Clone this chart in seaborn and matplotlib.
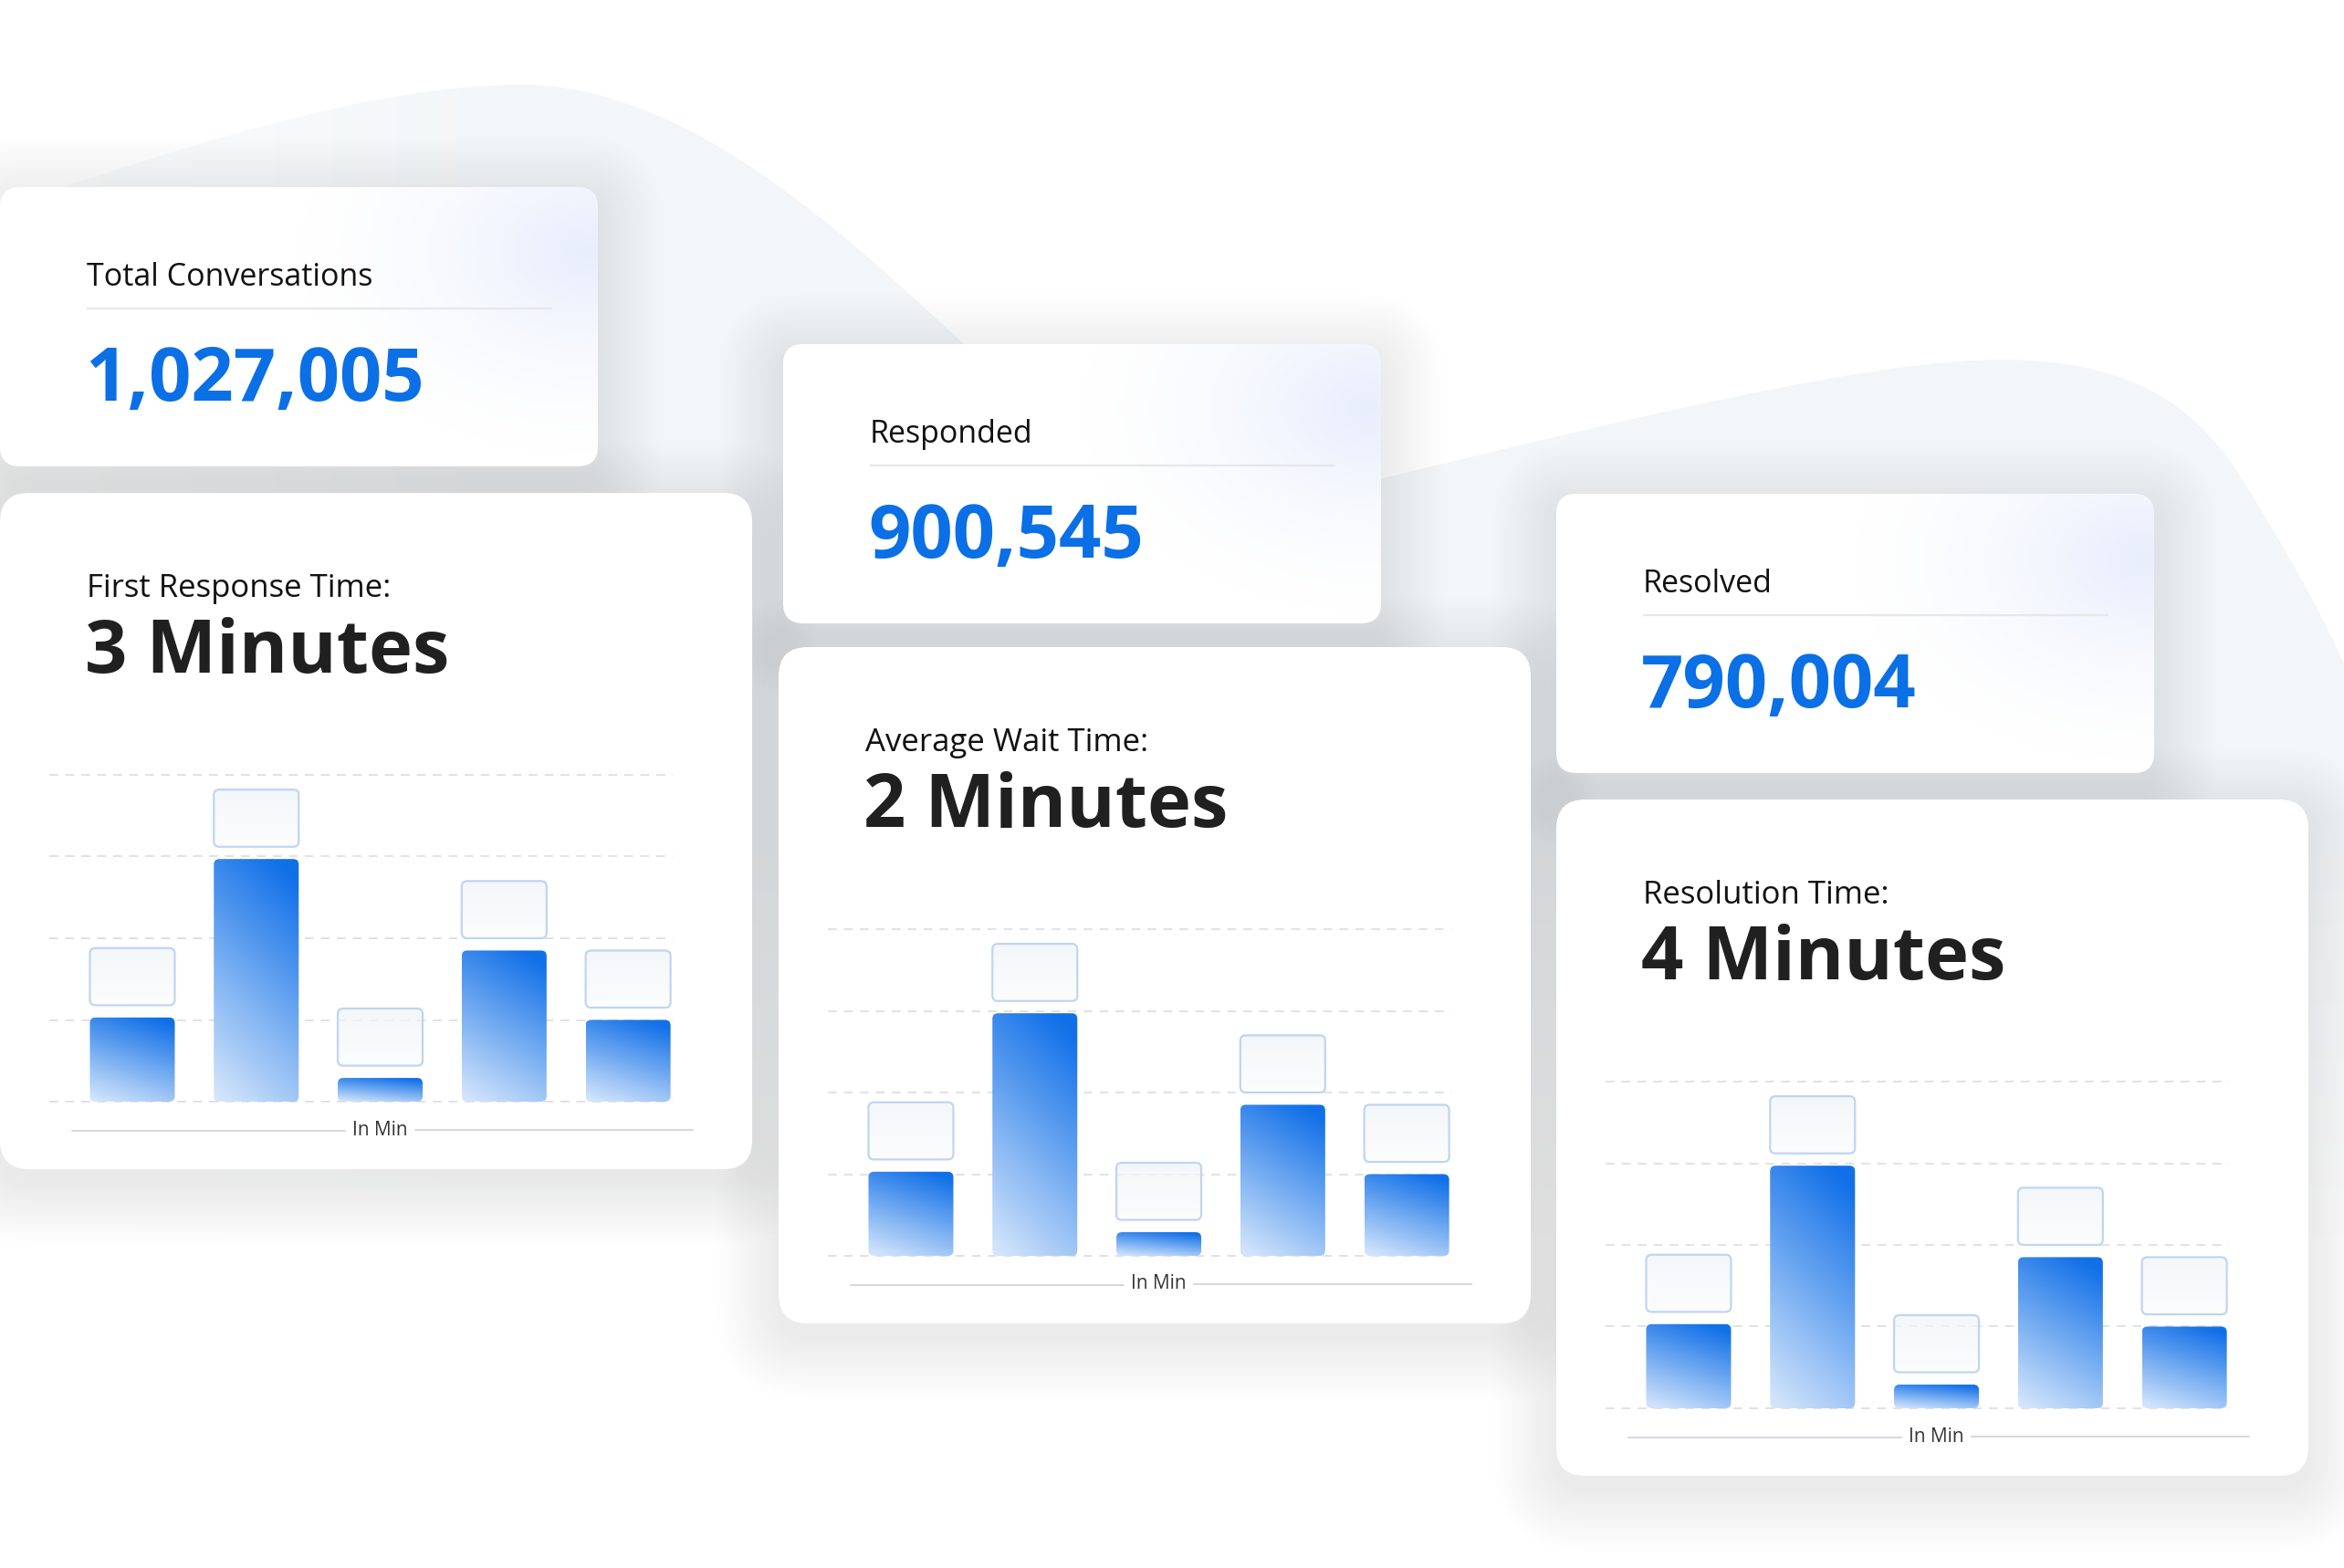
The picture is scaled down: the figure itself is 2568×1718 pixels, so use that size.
import numpy as np
import pandas as pd
import matplotlib
matplotlib.use("Agg")
import matplotlib.pyplot as plt
from matplotlib.patches import FancyBboxPatch, PathPatch
from matplotlib.path import Path
import seaborn as sns

sns.set_theme(style="white")
plt.rcParams["font.family"] = ["Open Sans", "DejaVu Sans"]

W, H = 2568, 1718

# ---- data -------------------------------------------------------------
kpi_labels = ["Total Conversations", "Responded", "Resolved"]
kpi_values = [1027005, 900545, 790004]

time_titles = ["First Response Time:", "Average Wait Time:", "Resolution Time:"]
time_minutes = [3, 2, 4]

bar_keys = ["1", "2", "3", "4", "5"]
first_response = [1.03, 2.97, 0.29, 1.85, 1.00]
average_wait = [1.03, 2.97, 0.29, 1.85, 1.00]
resolution = [1.03, 2.97, 0.29, 1.85, 1.00]
bar_series = [first_response, average_wait, resolution]
axis_caption = "In Min"

# ---- layout / style ----------------------------------------------------
small_left = [0, 858, 1705]
small_top = [205, 377, 541]
small_w, small_h = 655, 306
chart_left = [0, 853, 1705]
chart_top = [540, 709, 876]
chart_w, chart_h = 824, 741

BLUE_TXT = "#0b6fe6"
DARK = np.array([0.07, 0.44, 0.91])
LIGHT = np.array([0.83, 0.90, 0.985])
GRID = "#dfe2e6"

fig = plt.figure(figsize=(W / 100, H / 100), dpi=100)
fig.patch.set_facecolor("white")
bg = fig.add_axes([0, 0, 1, 1])
bg.set_xlim(0, W)
bg.set_ylim(H, 0)
bg.set_axis_off()


def rbox(ax, x, y, w, h, r, aspect=1.0, **kw):
    p = FancyBboxPatch((x, y), w, h, boxstyle=f"round,pad=0,rounding_size={r}",
                       mutation_aspect=aspect, **kw)
    ax.add_patch(p)
    return p


# background blob
verts = [(-10, 230), (180, 170), (400, 90), (580, 93),
         (760, 98), (930, 260), (1070, 390),
         (1300, 560), (1515, 524),
         (1800, 455), (2060, 392), (2200, 394),
         (2330, 396), (2400, 440), (2450, 515),
         (2510, 610), (2560, 700), (2590, 780),
         (2590, 1730), (-10, 1730), (-10, 230)]
codes = [Path.MOVETO] + [Path.CURVE4] * 6 + [Path.LINETO] * 2 + \
        [Path.CURVE4] * 9 + [Path.LINETO] * 2 + [Path.CLOSEPOLY]
blob = PathPatch(Path(verts, codes), facecolor="none", edgecolor="none")
bg.add_patch(blob)
by, bx_ = np.mgrid[0:H:8, 0:W:8]
alpha = np.clip((1350 - by) / 450, 0, 1) * np.clip(0.3 + bx_ / 800, 0, 1)
blob_img = np.zeros(by.shape + (4,))
blob_img[..., 0], blob_img[..., 1], blob_img[..., 2] = 0.955, 0.968, 0.973
blob_img[..., 3] = alpha
im = bg.imshow(blob_img, extent=(0, W, H, 0), origin="upper", aspect="auto",
               interpolation="bilinear", zorder=0)
im.set_clip_path(blob)


def shadow(x, y, w, h, r):
    for i in range(20):
        pad = 2 + i * 3.5
        rbox(bg, x - pad, y - pad + 14, w + 2 * pad, h + 2 * pad, r + pad,
             facecolor="#56646f", edgecolor="none", alpha=0.003, zorder=1)


for x, y in zip(small_left, small_top):
    shadow(x, y, small_w, small_h, 22)
for x, y in zip(chart_left, chart_top):
    shadow(x, y, chart_w, chart_h, 32)

# small KPI cards
gy, gx = np.mgrid[0:small_h:2, 0:small_w:2]
for x, y, lab, val in zip(small_left, small_top, kpi_labels, kpi_values):
    card = rbox(bg, x, y, small_w, small_h, 22, facecolor="white",
                edgecolor="none", zorder=2)
    u = (gx - (small_w - 10)) / 330.0
    v = (gy - 70) / 230.0
    d = np.sqrt(u ** 2 + v ** 2)
    glow = np.zeros(gx.shape + (4,))
    glow[..., 0], glow[..., 1], glow[..., 2] = 0.875, 0.905, 0.99
    glow[..., 3] = 0.7 * np.clip(1 - d, 0, 1) ** 1.6
    g = bg.imshow(glow, extent=(x, x + small_w, y + small_h, y), origin="upper",
                  aspect="auto", interpolation="bilinear", zorder=2.1)
    g.set_clip_path(card)
    bg.text(x + 95, y + 108, lab, fontsize=24.5, color="#111111", va="baseline",
            ha="left", zorder=3)
    bg.plot([x + 95, x + 605], [y + 133, y + 133], color="#e5e7ea", lw=1.6,
            zorder=3, solid_capstyle="butt")
    bg.text(x + 93, y + 234, f"{val:,}", fontsize=58.5, fontweight="bold",
            color=BLUE_TXT, va="baseline", ha="left", zorder=3)

# chart cards
ty = np.linspace(0, 1, 80)[:, None]
tx = np.linspace(0, 1, 24)[None, :]
dmix = np.clip(0.82 * ty + 0.28 * (1 - tx) - 0.08, 0, 1)
bar_img = DARK + (LIGHT - DARK) * dmix[..., None]
ghost_img = np.zeros((40, 2, 4))
gt = np.linspace(0, 1, 40)[:, None]
ghost_img[..., 0] = 0.94 + 0.045 * gt
ghost_img[..., 1] = 0.955 + 0.035 * gt
ghost_img[..., 2] = 0.968 + 0.025 * gt
ghost_img[..., 3] = 0.72

for k, (x, y) in enumerate(zip(chart_left, chart_top)):
    rbox(bg, x, y, chart_w, chart_h, 32, facecolor="white", edgecolor="none",
         zorder=2)
    bg.text(x + 95, y + 114, time_titles[k], fontsize=25, color="#111111",
            va="baseline", ha="left", zorder=3)
    bg.text(x + 93, y + 197, f"{time_minutes[k]} Minutes", fontsize=58.5,
            fontweight="bold", color="#202020", va="baseline", ha="left",
            zorder=3)
    bg.plot([x + 79, x + 378], [y + 699, y + 699], color="#d6d9dd", lw=1.5,
            zorder=3)
    bg.plot([x + 455, x + 759], [y + 698, y + 698], color="#d6d9dd", lw=1.5,
            zorder=3)
    bg.text(x + 416, y + 698, axis_caption, fontsize=15, color="#333333",
            ha="center", va="center", zorder=3)

    x0px, x1px = x + 54, x + 737
    y4px, y0px = y + 309, y + 667
    ppu = (y0px - y4px) / 4.0
    lo, hi = -0.06, 4.06
    top_px = y4px - 0.06 * ppu
    bot_px = y0px + 0.06 * ppu
    ax = fig.add_axes([x0px / W, 1 - bot_px / H, (x1px - x0px) / W,
                       (bot_px - top_px) / H])
    ax.patch.set_alpha(0)
    df = pd.DataFrame({"bar": bar_keys, "minutes": bar_series[k]})
    sns.barplot(data=df, x="bar", y="minutes", ax=ax, color="#1a73e8",
                width=0.685, saturation=1)
    xlim = (-0.67, 4.36)
    ax.set_xlim(*xlim)
    ax.set_ylim(lo, hi)
    for gv in range(5):
        ax.axhline(gv, color=GRID, lw=1.4, ls=(0, (5, 4)), zorder=0)

    xpx = (x1px - x0px) / (xlim[1] - xlim[0])
    asp = xpx / ppu
    r = 6.0 / xpx
    rects = list(ax.patches)
    for p in rects:
        bx, bw, bh = p.get_x(), p.get_width(), p.get_height()
        p.set_visible(False)
        clip = rbox(ax, bx, 0, bw, bh, r, aspect=asp, facecolor="none",
                    edgecolor="none")
        bi = ax.imshow(bar_img, extent=(bx, bx + bw, 0, bh), origin="upper",
                       aspect="auto", interpolation="bicubic", zorder=3)
        bi.set_clip_path(clip)
        gb, gh = bh + 0.15, 0.70
        gclip = rbox(ax, bx, gb, bw, gh, r, aspect=asp, facecolor="none",
                     edgecolor="none")
        gi = ax.imshow(ghost_img, extent=(bx, bx + bw, gb, gb + gh),
                       origin="upper", aspect="auto", interpolation="bilinear",
                       zorder=3)
        gi.set_clip_path(gclip)
        rbox(ax, bx, gb, bw, gh, r, aspect=asp, facecolor="none",
             edgecolor="#bfd5f1", lw=1.6, zorder=4)
    ax.set_xlim(*xlim)
    ax.set_ylim(lo, hi)
    ax.set_axis_off()

fig.savefig("out.png", dpi=100)
